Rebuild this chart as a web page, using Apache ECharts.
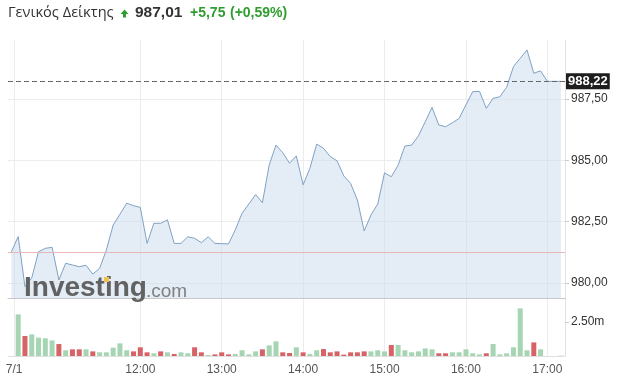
<!DOCTYPE html>
<html><head><meta charset="utf-8">
<script src="https://cdn.jsdelivr.net/npm/echarts@6/dist/echarts.min.js"></script>
<style>html,body{margin:0;padding:0;background:#fff}#c{width:618px;height:385px}</style>
</head><body><div id="c"></div>
<script>
// 5-minute steps, index 0 = session start
const timeTickIdx = [0.4, 19, 31, 43, 55, 67, 79];
const timeTickLabels = ['7/1', '12:00', '13:00', '14:00', '15:00', '16:00', '17:00'];
const priceTicks = [980, 982.5, 985, 987.5];
const volumeTicks = [2.5];
const prevClose = 981.26;
const lastPrice = 988.22;
const price = [
  981.27, 981.89, 979.85, 980.20, 981.27, 981.41, 981.45, 980.12, 980.80, 980.73,
  980.66, 980.72, 980.36, 980.59, 981.34, 982.36, 982.80, 983.25, 983.15, 983.08,
  981.61, 982.43, 982.43, 982.57, 981.61, 981.61, 981.88, 981.82, 981.64, 981.88,
  981.61, 981.60, 981.59, 982.16, 982.84, 983.22, 983.60, 983.27, 984.81, 985.62,
  985.31, 984.88, 985.18, 984.00, 984.67, 985.66, 985.49, 985.15, 984.98, 984.36,
  984.06, 983.38, 982.12, 982.77, 983.22, 984.49, 984.33, 984.80, 985.58, 985.62,
  986.00, 986.57, 987.16, 986.44, 986.37, 986.53, 986.71, 987.26, 987.80, 987.81,
  987.12, 987.53, 987.59, 987.98, 988.82, 989.16, 989.50, 988.55, 988.65, 988.22,
  988.22, 988.22
];
// volume in millions
const volume = [
  0, 3.06, 1.47, 1.59, 1.35, 1.30, 1.15, 0.88, 0.42, 0.49,
  0.49, 0.49, 0.34, 0.27, 0.27, 0.61, 0.93, 0.42, 0.34, 0.64,
  0.27, 0.20, 0.34, 0.27, 0.15, 0.27, 0.20, 0.64, 0.27, 0.07,
  0.12, 0.27, 0.12, 0.15, 0.42, 0.12, 0.34, 0.49, 0.78, 1.08,
  0.27, 0.22, 0.64, 0.27, 0.15, 0.42, 0.51, 0.27, 0.34, 0.10,
  0.27, 0.27, 0.34, 0.34, 0.42, 0.34, 0.81, 0.81, 0.42, 0.27,
  0.34, 0.56, 0.49, 0.20, 0.20, 0.27, 0.27, 0.49, 0.20, 0.12,
  0.20, 0.88, 0.12, 0.20, 0.64, 3.50, 0.42, 1.00, 0.49, 0,
  0, 0.03
];
// 1 = up (green), -1 = down (red), 0 = flat
const volumeDir = [
  0, 1, -1, 1, 1, 1, 1, -1, 1, -1,
  -1, 1, -1, 1, 1, 1, 1, 1, -1, -1,
  -1, 1, -1, 1, -1, 1, 1, -1, -1, 1,
  -1, -1, -1, 1, 1, 1, 1, -1, 1, 1,
  -1, -1, 1, -1, 1, 1, -1, -1, -1, -1,
  -1, -1, -1, 1, 1, 1, -1, 1, 1, 1,
  1, 1, 1, -1, -1, 1, 1, 1, 1, 1,
  -1, 1, 1, 1, 1, 1, 1, -1, 1, 0,
  0, 0
];

const FONT = '"Liberation Sans", Arial, sans-serif';
const GREEN_TXT = '#2f9e2f';
const fmtComma = v => v.toFixed(2).replace('.', ',');
const timeLabel = v => {
  for (let k = 0; k < timeTickIdx.length; k++) if (Math.abs(timeTickIdx[k] - v) < 1e-6) return timeTickLabels[k];
  return '';
};

const chart = echarts.init(document.getElementById('c'), null, {renderer: 'canvas'});
chart.setOption({
  animation: false,
  backgroundColor: '#fff',
  textStyle: {fontFamily: FONT},
  grid: [
    {left: 8, top: 40, width: 557, height: 258},
    {left: 8, top: 298, width: 557, height: 58}
  ],
  xAxis: [
    {
      type: 'value', gridIndex: 0, min: -0.5, max: 81.6,
      axisLine: {show: true, onZero: false, lineStyle: {color: '#c8c8c8'}},
      axisTick: {show: false, customValues: timeTickIdx},
      axisLabel: {show: false, customValues: timeTickIdx},
      splitLine: {show: true, lineStyle: {color: '#ececec'}}
    },
    {
      type: 'value', gridIndex: 1, min: -0.5, max: 81.6,
      axisLine: {show: true, onZero: false, lineStyle: {color: '#e0e0e0'}},
      axisTick: {show: false, customValues: timeTickIdx},
      axisLabel: {show: true, customValues: timeTickIdx, formatter: timeLabel,
        color: '#555', fontSize: 12, margin: 8, fontFamily: FONT},
      splitLine: {show: true, lineStyle: {color: '#ececec'}}
    }
  ],
  yAxis: [
    {
      type: 'value', gridIndex: 0, position: 'right', min: 979.384, max: 989.906,
      axisLine: {show: true, onZero: false, lineStyle: {color: '#e3e3e3'}},
      axisTick: {show: true, length: 4, customValues: priceTicks, lineStyle: {color: '#ccc'}},
      axisLabel: {customValues: priceTicks, formatter: fmtComma, color: '#333', fontSize: 12, margin: 6, fontFamily: FONT},
      splitLine: {show: true, lineStyle: {color: '#ececec'}}
    },
    {
      type: 'value', gridIndex: 1, position: 'right', min: 0, max: 4.265,
      axisLine: {show: true, onZero: false, lineStyle: {color: '#e3e3e3'}},
      axisTick: {show: true, length: 4, customValues: volumeTicks, lineStyle: {color: '#ccc'}},
      axisLabel: {customValues: volumeTicks, formatter: v => v.toFixed(2) + 'm', color: '#333', fontSize: 12, margin: 6, fontFamily: FONT},
      splitLine: {show: false}
    }
  ],
  series: [
    {
      type: 'line', xAxisIndex: 0, yAxisIndex: 0,
      data: price.map((v, i) => [i, v]),
      symbol: 'none',
      lineStyle: {color: '#7fa2c4', width: 1},
      areaStyle: {color: 'rgb(205,222,238)', opacity: 0.55, origin: 'start'},
      markLine: {
        silent: true, symbol: 'none', animation: false,
        data: [
          {yAxis: lastPrice, lineStyle: {color: '#666', type: [5, 3], width: 1.2},
            label: {show: true, position: 'end', distance: 1, formatter: () => fmtComma(lastPrice),
              backgroundColor: '#1e1e1e', color: '#fff', fontWeight: 'bold', fontSize: 13,
              padding: [2, 2, 1, 2], lineHeight: 13, fontFamily: FONT}},
          {yAxis: prevClose, lineStyle: {color: '#e8b8b8', type: 'solid', width: 1}, label: {show: false}}
        ]
      }
    },
    {
      type: 'bar', xAxisIndex: 1, yAxisIndex: 1,
      data: volume.map((v, i) => [i, v]),
      barWidth: 5,
      itemStyle: {color: p => volumeDir[p.dataIndex] > 0 ? '#a5d5b2' : (volumeDir[p.dataIndex] < 0 ? '#d76367' : '#cfcfcf')}
    }
  ],
  graphic: [
    {type: 'text', x: 8, y: 13, style: {text: 'Γενικός Δείκτης', font: '14.6px "Open Sans", ' + FONT, fill: '#333', verticalAlign: 'middle'}},
    {type: 'polygon', shape: {points: [[124.5, 9.5], [128.5, 14], [126, 14], [126, 17.5], [123, 17.5], [123, 14], [120.5, 14]]},
      style: {fill: GREEN_TXT}},
    {type: 'text', x: 135, y: 13, style: {text: '987,01', font: 'bold 15.5px ' + FONT, fill: '#333', verticalAlign: 'middle'}},
    {type: 'text', x: 190, y: 13, style: {text: '+5,75', font: 'bold 14px ' + FONT, fill: GREEN_TXT, verticalAlign: 'middle'}},
    {type: 'text', x: 230, y: 13, style: {text: '(+0,59%)', font: 'bold 14px ' + FONT, fill: GREEN_TXT, verticalAlign: 'middle'}},
    {type: 'text', x: 24, y: 288, z: 100, style: {text: 'Investing', font: 'bold 28px ' + FONT, fill: '#626262', verticalAlign: 'middle'}},
    {type: 'text', x: 146, y: 291.5, z: 100, style: {text: '.com', font: '19px ' + FONT, fill: '#808080', verticalAlign: 'middle'}},
    {type: 'rect', z: 101, shape: {x: 104, y: 277, width: 5, height: 5}, style: {fill: '#f1c24a'}}
  ]
});
</script>
</body></html>
